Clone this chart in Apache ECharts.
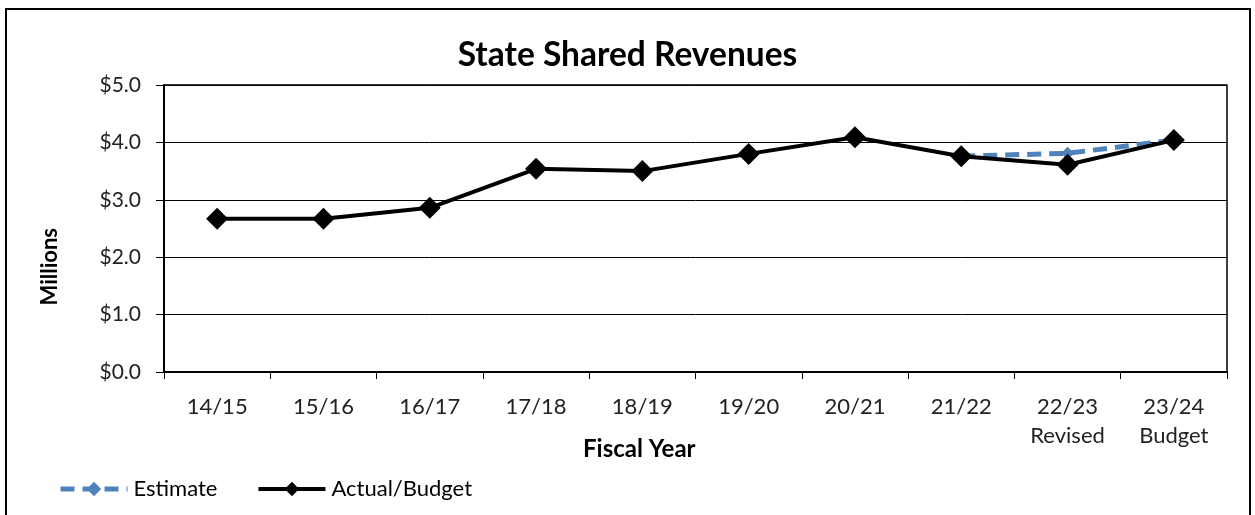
<!DOCTYPE html>
<html>
<head>
<meta charset="utf-8">
<script src="https://cdn.jsdelivr.net/npm/echarts@6/dist/echarts.min.js"></script>
<style>
  html, body { margin: 0; padding: 0; background: #fff; }
  #frame { position: absolute; left: 5px; top: 8px; width: 1246px; height: 530px; border: 2px solid #000; box-sizing: border-box; }
  #chart { position: absolute; left: 0; top: 0; width: 1255px; height: 515px; }
</style>
</head>
<body>
<div id="frame"></div>
<div id="chart"></div>
<script>
// Fiscal years shown on the category axis
const categories = ['14/15', '15/16', '16/17', '17/18', '18/19', '19/20', '20/21', '21/22', '22/23\nRevised', '23/24\nBudget'];
// State shared revenues, in millions of dollars
const actualBudget = [2.67, 2.67, 2.86, 3.54, 3.50, 3.80, 4.09, 3.76, 3.61, 4.04];
const estimate = [null, null, null, null, null, null, null, 3.76, 3.81, 4.04];
const yTicks = [0, 1, 2, 3, 4, 5];

const FONT = 'Lato, "Open Sans", sans-serif';
const BLUE = '#4F81BD';
const chart = echarts.init(document.getElementById('chart'), null, { renderer: 'canvas' });

chart.setOption({
  backgroundColor: 'transparent',
  animation: false,
  title: {
    text: 'State Shared Revenues',
    left: 'center',
    top: 33,
    textStyle: { fontFamily: FONT, fontSize: 33.5, fontWeight: 'bold', color: '#000' }
  },
  grid: {
    left: 164, right: 28, top: 85, bottom: 143,
    show: true, borderColor: '#000', borderWidth: 1.5, backgroundColor: 'transparent'
  },
  legend: {
    left: 53, top: 473,
    itemWidth: 67, itemHeight: 18, itemGap: 39,
    textStyle: { fontFamily: FONT, fontSize: 22, color: '#000', padding: [0, 0, 0, 1] },
    data: [
      { name: 'Estimate', lineStyle: { width: 5, color: BLUE, type: [14, 8] } },
      { name: 'Actual/Budget', lineStyle: { width: 4, color: '#000' } }
    ]
  },
  xAxis: {
    type: 'category',
    data: categories,
    boundaryGap: true,
    axisLine: { lineStyle: { color: '#000', width: 2 } },
    axisTick: { show: true, length: 7, interval: 0, lineStyle: { color: '#000', width: 1 } },
    axisLabel: {
      interval: 0, margin: 20, color: '#222',
      fontFamily: FONT, fontSize: 22, lineHeight: 29
    }
  },
  yAxis: {
    type: 'value',
    min: yTicks[0], max: yTicks[yTicks.length - 1], interval: 1,
    axisLine: { show: true, lineStyle: { color: '#000', width: 2 } },
    axisTick: { show: true, length: 8, lineStyle: { color: '#000', width: 1 } },
    splitLine: { lineStyle: { color: '#000', width: 1 } },
    axisLabel: {
      margin: 23, color: '#222', fontFamily: FONT, fontSize: 21,
      formatter: v => '$' + v.toFixed(1)
    }
  },
  graphic: [
    {
      type: 'text', left: 39, top: 228, rotation: Math.PI / 2,
      style: { text: 'Millions', fontFamily: FONT, fontSize: 22, fontWeight: 'bold', fill: '#000' }
    },
    {
      type: 'text', left: 583, top: 437,
      style: { text: 'Fiscal Year', fontFamily: FONT, fontSize: 24, fontWeight: 'bold', fill: '#000' }
    }
  ],
  series: [
    {
      name: 'Estimate',
      type: 'line',
      data: estimate,
      symbol: 'diamond', symbolSize: 13,
      itemStyle: { color: BLUE },
      lineStyle: { color: BLUE, width: 5, type: [14, 8] },
      z: 2
    },
    {
      name: 'Actual/Budget',
      type: 'line',
      data: actualBudget,
      symbol: 'diamond', symbolSize: 22,
      itemStyle: { color: '#000' },
      lineStyle: { color: '#000', width: 4 },
      z: 3
    }
  ]
});
</script>
</body>
</html>
